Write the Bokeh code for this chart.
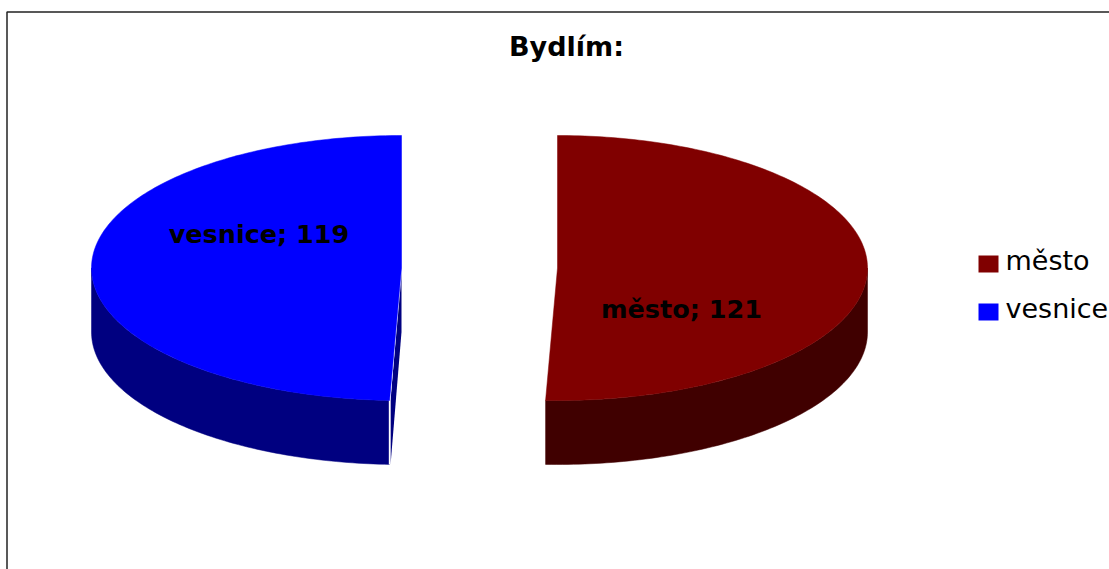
import numpy as np
from bokeh.plotting import figure
from bokeh.models import Range1d
from bokeh.core.properties import value
from bokeh.embed import file_html
from bokeh.resources import INLINE

categories = ["město", "vesnice"]
counts = [121, 119]
title_text = "Bydlím:"
top_colors = ["#800000", "#0000FF"]
side_colors = ["#400000", "#000080"]

W, H = 1109, 569
RX, RY, DEPTH = 310, 132.5, 64
CY = 267.5
CX_RIGHT, CX_LEFT = 557, 401
SKEW = 1.47  # perspective skew of the cut near the front of the pie

p = figure(width=W, height=H, output_backend="svg", toolbar_location=None,
           x_range=Range1d(0, W), y_range=Range1d(H, 0),
           min_border=0, outline_line_color=None)
p.axis.visible = False
p.grid.visible = False

total = sum(counts)
cut = 180 + (counts[0] / total * 360 - 180) * SKEW  # clockwise degrees from 12 o'clock


def pt(cx, deg):
    a = np.radians(np.asarray(deg, dtype=float))
    return cx + RX * np.sin(a), CY - RY * np.cos(a)


# Frame
p.line([6.5, 6.5, W], [H, 11.5, 11.5], line_color="#222222", line_width=1.5)

# Right slice (město): clockwise 0..cut
a = np.linspace(90, cut, 90)
x, y = pt(CX_RIGHT, a)
p.patch(np.r_[x, x[::-1]], np.r_[y, y[::-1] + DEPTH], fill_color=side_colors[0], line_color=side_colors[0], line_width=0.5)
a = np.linspace(0, cut, 180)
x, y = pt(CX_RIGHT, a)
p.patch(np.r_[CX_RIGHT, x], np.r_[CY, y], fill_color=top_colors[0], line_color=top_colors[0], line_width=0.5)

# Left slice (vesnice): clockwise cut..360
a = np.linspace(cut, 270, 90)
x, y = pt(CX_LEFT, a)
p.patch(np.r_[x, x[::-1]], np.r_[y, y[::-1] + DEPTH], fill_color=side_colors[1], line_color=side_colors[1], line_width=0.5)
ex, ey = pt(CX_LEFT, cut)
p.patch([CX_LEFT, CX_LEFT, ex + 1, ex + 1], [CY, CY + DEPTH, ey + DEPTH, ey],
        fill_color=side_colors[1], line_color=None)
p.line([CX_LEFT, ex, ex], [CY, ey, ey + DEPTH], line_color="white", line_width=1.5)
a = np.linspace(cut, 360, 180)
x, y = pt(CX_LEFT, a)
p.patch(np.r_[CX_LEFT, x], np.r_[CY, y], fill_color=top_colors[1], line_color=top_colors[1], line_width=0.5)

font = value("DejaVu Sans")
# Title and data labels
p.text([566], [46], text=[title_text], text_font=font, text_font_style="bold",
       text_font_size="27px", text_align="center", text_baseline="middle", text_color="black")
p.text([681, 258.5], [308.5, 233], text=[f"{c}; {v}" for c, v in zip(categories, counts)],
       text_font=font, text_font_style="bold", text_font_size="25.5px",
       text_align="center", text_baseline="middle", text_color="black")

# Legend
p.quad(left=[978, 978], right=[998, 998], top=[255, 303], bottom=[272, 320],
       fill_color=top_colors, line_color=None)
p.text([1005, 1005], [260, 308], text=categories, text_font=font,
       text_font_size="27px", text_align="left", text_baseline="middle", text_color="black")

open("out.html", "w").write(file_html(p, INLINE))
